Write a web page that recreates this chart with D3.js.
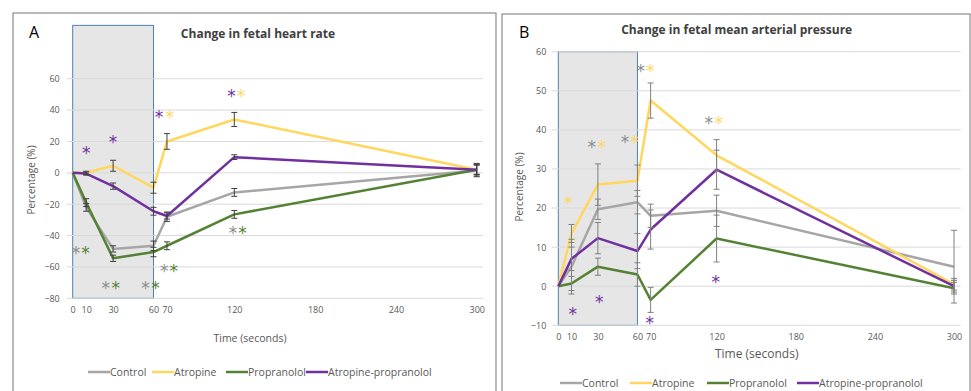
<!DOCTYPE html>
<html>
<head>
<meta charset="utf-8">
<script src="https://cdn.jsdelivr.net/npm/d3@7"></script>
<style>
  body { margin: 0; background: #fff; }
  svg { display: block; font-family: "Open Sans", "Noto Sans", sans-serif; }
</style>
</head>
<body>
<div id="container"></div>
<script>
// Time points (seconds)
const times = [0, 10, 30, 60, 70, 120, 300];
const xTicks = [0, 10, 30, 60, 70, 120, 180, 240, 300];
const seriesNames = ["Control", "Atropine", "Propranolol", "Atropine-propranolol"];
const seriesColors = ["#a6a6a6", "#ffd75e", "#548235", "#7030a0"];

// Panel A: change in fetal heart rate (%)
const hrTicks = [-80, -60, -40, -20, 0, 20, 40, 60];
const hrControl = [0, -22, -48.5, -46.5, -28, -12.5, 1.5];
const hrControlErr = [0, 2.5, 2, 3, 3, 2.5, 4];
const hrAtropine = [0, 0, 4.5, -9.5, 20, 34, 2];
const hrAtropineErr = [0, 1, 3.5, 3.5, 5, 4.5, 4];
const hrPropranolol = [0, -19, -54.5, -50.5, -46.5, -26.5, 2];
const hrPropranololErr = [0, 2.5, 2, 3, 2.5, 2.5, 3];
const hrAtrProp = [0, -0.5, -8.5, -24.5, -27.5, 10, 2];
const hrAtrPropErr = [0, 1, 2, 2.5, 2, 1.5, 3];
// asterisks: [time, value, series index]
const hrStars = [
  [10, 15, 3], [30, 22, 3], [64, 38, 3], [72, 38, 1], [118, 51.5, 3], [125, 51.5, 1],
  [2.5, -48.5, 0], [9.5, -48.5, 2], [24.5, -71, 0], [32, -71, 2], [54, -71, 0], [61.5, -71, 2],
  [68, -60, 0], [75, -60, 2], [119, -36, 0], [126, -36, 2]
];
const hrShade = [0, 60, 94, -80];

// Panel B: change in fetal mean arterial pressure (%)
const mapTicks = [-10, 0, 10, 20, 30, 40, 50, 60];
const mapControl = [0, 5, 19.7, 21.5, 18, 19.3, 5];
const mapControlErr = [0, 7, 2.6, 3, 3, 4, 9.3];
const mapAtropine = [0, 13.5, 26, 27, 47.5, 33.5, 0.5];
const mapAtropineErr = [0, 2.3, 5.3, 4, 4.5, 4, 1.5];
const mapPropranolol = [0, 0.7, 5, 3, -3.5, 12.2, -0.5];
const mapPropranololErr = [0, 1.8, 2.2, 3, 3.2, 6, 1.5];
const mapAtrProp = [0, 7, 12.3, 9, 14.5, 29.8, 0];
const mapAtrPropErr = [0, 3, 4, 4.5, 5, 5, 1.5];
const mapStars = [
  [7.5, 22.3, 1], [11, -6.1, 3], [31, -3.1, 3], [25.3, 36.6, 0], [33, 36.6, 1],
  [50.6, 38, 0], [57.7, 38, 1], [62.5, 56.2, 0], [69.8, 56.2, 1], [69.3, -8.3, 3],
  [114, 42.7, 0], [121.6, 42.7, 1], [119.3, 2.2, 3]
];
const mapShade = [0, 60, 60, -10];

const svg = d3.select("#container").append("svg")
  .attr("width", 971).attr("height", 391);

function drawPanel(p) {
  const g = svg.append("g");

  // panel border
  g.append("rect")
    .attr("x", p.box[0]).attr("y", p.box[1])
    .attr("width", p.box[2]).attr("height", p.box[3])
    .attr("fill", "#fff").attr("stroke", "#8c8c8c").attr("stroke-width", 1.2);

  const x = d3.scaleLinear().domain([0, 300]).range(p.xRange);
  const y = d3.scaleLinear().domain(p.yDomain).range(p.yRange);

  // shaded infusion window
  g.append("rect")
    .attr("x", x(p.shade[0])).attr("y", y(p.shade[2]))
    .attr("width", x(p.shade[1]) - x(p.shade[0]))
    .attr("height", y(p.shade[3]) - y(p.shade[2]))
    .attr("fill", "#e6e6e6").attr("stroke", "#4f81b0").attr("stroke-width", 1);

  // gridlines
  g.selectAll(".grid").data(p.yTicks).enter().append("line")
    .attr("x1", p.gridX[0]).attr("x2", p.gridX[1])
    .attr("y1", d => y(d)).attr("y2", d => y(d))
    .attr("stroke", "#d9d9d9").attr("stroke-width", 1);

  // y axis labels
  const yAxis = g.append("g")
    .attr("transform", "translate(" + p.xRange[0] + ",0)")
    .call(d3.axisLeft(y).tickValues(p.yTicks).tickSize(0).tickPadding(p.yPad));
  yAxis.select(".domain").remove();
  yAxis.selectAll("text").attr("fill", "#595959").attr("font-size", "9px")
    .attr("font-family", "Open Sans");

  // x axis labels
  const xAxis = g.append("g")
    .attr("transform", "translate(0," + p.yRange[0] + ")")
    .call(d3.axisBottom(x).tickValues(xTicks).tickSize(0).tickPadding(p.xPad));
  xAxis.select(".domain").remove();
  xAxis.selectAll("text").attr("fill", "#595959").attr("font-size", "9px")
    .attr("font-family", "Open Sans");

  // titles
  g.append("text").attr("x", p.letter[0]).attr("y", p.letter[1])
    .attr("font-size", "16px").attr("fill", "#000").text(p.letterText);
  g.append("text").attr("x", p.title[0]).attr("y", p.title[1])
    .attr("text-anchor", "middle").attr("font-size", "12px").attr("font-weight", "bold")
    .attr("fill", "#404040").text(p.titleText);
  g.append("text").attr("x", p.xTitle[0]).attr("y", p.xTitle[1])
    .attr("text-anchor", "middle").attr("font-size", p.xTitleSize).attr("fill", "#595959")
    .text("Time (seconds)");
  g.append("text")
    .attr("transform", "translate(" + p.yTitle[0] + "," + p.yTitle[1] + ") rotate(-90)")
    .attr("text-anchor", "middle").attr("font-size", "10px").attr("fill", "#595959")
    .text("Percentage (%)");

  const line = d3.line().x((d, i) => x(times[i])).y(d => y(d));

  // series lines and error bars
  p.series.forEach(function(s, k) {
    g.append("path").datum(s)
      .attr("d", line)
      .attr("fill", "none")
      .attr("stroke", seriesColors[k])
      .attr("stroke-width", 2.5)
      .attr("stroke-linejoin", "round");
  });
  p.series.forEach(function(s, k) {
    const errs = p.errors[k];
    const eb = g.append("g").attr("stroke", p.errColor).attr("stroke-width", 1);
    s.forEach(function(v, i) {
      if (!errs[i]) return;
      const cx = x(times[i]);
      eb.append("line").attr("x1", cx).attr("x2", cx)
        .attr("y1", y(v - errs[i])).attr("y2", y(v + errs[i]));
      [v - errs[i], v + errs[i]].forEach(function(e) {
        eb.append("line").attr("x1", cx - 3).attr("x2", cx + 3)
          .attr("y1", y(e)).attr("y2", y(e));
      });
    });
  });

  // significance asterisks
  g.selectAll(".star").data(p.stars).enter().append("text")
    .attr("x", d => x(d[0]))
    .attr("y", d => y(d[1]))
    .attr("dy", "0.59em")
    .attr("text-anchor", "middle")
    .attr("font-size", "17px")
    .attr("font-family", "DejaVu Sans")
    .attr("fill", d => d[2] === 0 ? "#8c8c8c" : seriesColors[d[2]])
    .text("*");

  // legend
  const lg = g.append("g");
  seriesNames.forEach(function(name, k) {
    const lx = p.legendX[k];
    lg.append("line").attr("x1", lx).attr("x2", lx + 22)
      .attr("y1", p.legendY).attr("y2", p.legendY)
      .attr("stroke", seriesColors[k]).attr("stroke-width", 2.5);
    lg.append("text").attr("x", lx + 22).attr("y", p.legendY).attr("dy", "0.35em")
      .attr("font-size", "10.5px").attr("fill", "#595959").text(name);
  });
}

drawPanel({
  box: [13, 13, 483, 400],
  xRange: [72.7, 476.7], yDomain: [-80, 60], yRange: [298.3, 78.7],
  gridX: [67, 483], yTicks: hrTicks, yPad: 13, xPad: 8,
  shade: hrShade,
  letter: [29, 38], letterText: "A",
  title: [258, 38], titleText: "Change in fetal heart rate",
  xTitle: [250, 342], xTitleSize: "10.5px",
  yTitle: [35, 180],
  series: [hrControl, hrAtropine, hrPropranolol, hrAtrProp],
  errors: [hrControlErr, hrAtropineErr, hrPropranololErr, hrAtrPropErr],
  errColor: "#404040",
  stars: hrStars,
  legendX: [88, 152, 226, 306], legendY: 372
});

drawPanel({
  box: [502, 14, 468, 400],
  xRange: [558.3, 954], yDomain: [-10, 60], yRange: [325.3, 51.7],
  gridX: [551.7, 960.7], yTicks: mapTicks, yPad: 12, xPad: 8,
  shade: mapShade,
  letter: [519, 38], letterText: "B",
  title: [736.7, 34], titleText: "Change in fetal mean arterial pressure",
  xTitle: [756.7, 358], xTitleSize: "12px",
  yTitle: [523, 187],
  series: [mapControl, mapAtropine, mapPropranolol, mapAtrProp],
  errors: [mapControlErr, mapAtropineErr, mapPropranololErr, mapAtrPropErr],
  errColor: "#808080",
  stars: mapStars,
  legendX: [560, 630, 707, 797], legendY: 383
});
</script>
</body>
</html>
